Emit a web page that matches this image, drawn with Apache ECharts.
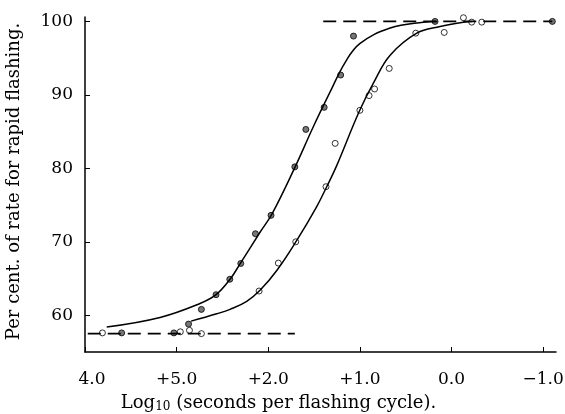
<!DOCTYPE html>
<html>
<head>
<meta charset="utf-8">
<script src="https://cdn.jsdelivr.net/npm/echarts@6/dist/echarts.min.js"></script>
<style>html,body{margin:0;padding:0;background:#fff}#c{width:565px;height:414px}</style>
</head>
<body>
<div id="c"></div>
<script>
// x positions are in tick units: 0 = "4.0" tick, 5 = "−1.0" tick
const xTickValues = [0, 1, 2, 3, 4, 5];
const xTickLabels = ['4.0', '+5.0', '+2.0', '+1.0', '0.0', '\u22121.0'];
const yTickValues = [60, 70, 80, 90, 100];

// half-filled markers (left curve)
const filledX = [0.40, 0.97, 1.13, 1.27, 1.43, 1.58, 1.70, 1.86, 2.03, 2.29, 2.41, 2.61, 2.79, 2.93, 3.82, 5.10];
const filledY = [57.6, 57.6, 58.8, 60.8, 62.8, 64.9, 67.05, 71.1, 73.6, 80.2, 85.3, 88.3, 92.7, 98.0, 100, 100];

// open markers (right curve)
const openX = [0.19, 1.04, 1.14, 1.27, 1.90, 2.11, 2.30, 2.63, 2.73, 3.00, 3.10, 3.16, 3.32, 3.61, 3.92, 4.13, 4.22, 4.33];
const openY = [57.6, 57.75, 57.95, 57.5, 63.3, 67.1, 70.0, 77.5, 83.4, 87.9, 89.9, 90.8, 93.6, 98.4, 98.5, 100.5, 99.9, 99.9];

// fitted curves
const leftCurveX = [0.237, 0.819, 1.255, 1.430, 1.583, 1.692, 1.910, 2.041, 2.293, 2.489, 2.675, 2.838, 3.002, 3.330, 3.690, 3.843];
const leftCurveY = [58.4, 59.7, 61.6, 62.8, 64.9, 67.0, 71.3, 73.8, 80.2, 85.6, 90.4, 94.4, 97.0, 99.1, 99.9, 100];
const rightCurveX = [1.157, 1.438, 1.583, 1.765, 1.910, 2.093, 2.311, 2.529, 2.638, 2.748, 2.991, 3.147, 3.330, 3.621, 3.876, 4.130, 4.222];
const rightCurveY = [59.2, 60.2, 60.8, 61.9, 63.4, 66.1, 70.2, 74.8, 77.5, 80.4, 87.7, 91.6, 95.4, 98.4, 99.3, 99.9, 100];

// dashed asymptotes
const upperDashX = [2.60, 5.10];
const upperDashY = [100, 100];
const lowerDashX = [0.03, 2.29];
const lowerDashY = [57.5, 57.5];

const zip = (xs, ys) => xs.map((x, i) => [x, ys[i]]);
const FONT = 'DejaVu Serif';

const chart = echarts.init(document.getElementById('c'), null, {renderer: 'canvas'});
chart.setOption({
  animation: false,
  backgroundColor: '#fff',
  grid: {left: 85, right: 9, top: 17, bottom: 62, containLabel: false, outerBoundsMode: 'none'},
  xAxis: {
    type: 'value', min: 0, max: 5.14,
    name: 'Log{sub|10} (seconds per flashing cycle).',
    nameLocation: 'middle', nameGap: 42,
    nameTextStyle: {
      fontFamily: FONT, fontSize: 18, color: '#000', padding: [0, 84, 0, 0],
      rich: {sub: {fontFamily: FONT, fontSize: 12, color: '#000', padding: [7, 0, 0, 0]}}
    },
    axisLine: {show: true, lineStyle: {color: '#000', width: 1.5}},
    axisTick: {show: true, inside: true, length: 5, customValues: xTickValues, lineStyle: {color: '#000', width: 1}},
    axisLabel: {
      customValues: xTickValues, margin: 19, fontFamily: FONT, fontSize: 17, color: '#000',
      formatter: v => {
        const i = Math.round(v);
        return i === 0 ? '{first|' + xTickLabels[i] + '}' : xTickLabels[i];
      },
      rich: {first: {fontFamily: FONT, fontSize: 17, color: '#000', padding: [0, 0, 0, 14]}}
    },
    splitLine: {show: false}
  },
  yAxis: {
    type: 'value', min: 55, max: 100.6,
    name: 'Per cent. of rate for rapid flashing.',
    nameLocation: 'middle', nameGap: 62,
    nameTextStyle: {fontFamily: FONT, fontSize: 18, color: '#000', padding: [0, 0, 0, 6]},
    axisLine: {show: true, lineStyle: {color: '#000', width: 1.5}},
    axisTick: {show: true, inside: true, length: 5, customValues: yTickValues, lineStyle: {color: '#000', width: 1}},
    axisLabel: {customValues: yTickValues, margin: 12, fontFamily: FONT, fontSize: 17, color: '#000'},
    splitLine: {show: false}
  },
  series: [
    {type: 'line', data: zip(upperDashX, upperDashY), showSymbol: false, silent: true,
     lineStyle: {color: '#000', width: 1.6, type: [13, 7]}},
    {type: 'line', data: zip(lowerDashX, lowerDashY), showSymbol: false, silent: true,
     lineStyle: {color: '#000', width: 1.6, type: [13, 7]}},
    {type: 'line', data: zip(leftCurveX, leftCurveY), showSymbol: false, smooth: 0.4, silent: true,
     lineStyle: {color: '#000', width: 1.5}},
    {type: 'line', data: zip(rightCurveX, rightCurveY), showSymbol: false, smooth: 0.4, silent: true,
     lineStyle: {color: '#000', width: 1.5}},
    {type: 'scatter', data: zip(filledX, filledY), symbol: 'circle', symbolSize: 6,
     itemStyle: {color: '#555', borderColor: '#000', borderWidth: 1}},
    {type: 'scatter', data: zip(openX, openY), symbol: 'circle', symbolSize: 6,
     itemStyle: {color: '#fff', borderColor: '#000', borderWidth: 1}}
  ]
});
</script>
</body>
</html>
